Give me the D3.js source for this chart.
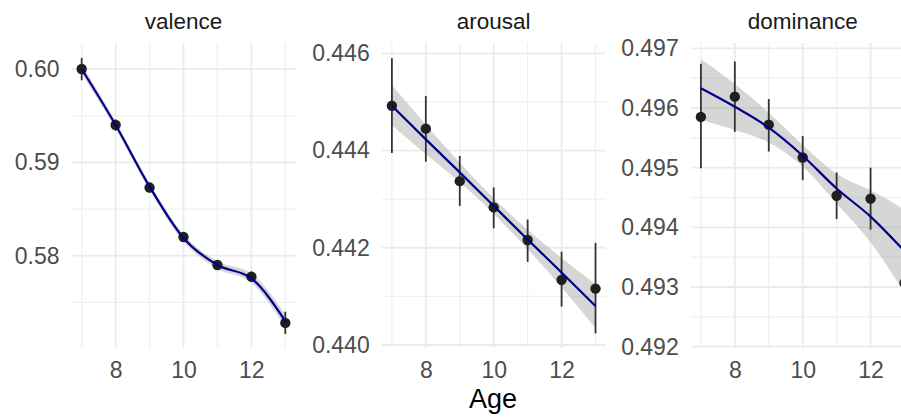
<!DOCTYPE html>
<html>
<head>
<meta charset="utf-8">
<script src="https://cdn.jsdelivr.net/npm/d3@7"></script>
<style>
    body { margin: 0; background: #fff; }
    svg { display: block; font-family: "Liberation Sans", Arial, sans-serif; }
</style>
</head>
<body>
<div id="chart"></div>
<script>
// ages on the x axis
const ages = [7, 8, 9, 10, 11, 12, 13]
const ageTicks = [8, 10, 12]
const ageMinorTicks = [7, 9, 11, 13]

// valence: means, error bar ends, smooth fit and its band
const valenceMean = [0.6000, 0.5940, 0.5873, 0.5820, 0.5790, 0.57775, 0.5728]
const valenceLow = [0.5988, 0.5934, 0.5868, 0.5815, 0.5786, 0.5772, 0.5716]
const valenceHigh = [0.6012, 0.5946, 0.5878, 0.5825, 0.5794, 0.5783, 0.5740]
const valenceFit = [0.6000, 0.5940, 0.5874, 0.5819, 0.5790, 0.57757, 0.5730]
const valenceFitLow = [0.5995, 0.5936, 0.5870, 0.5815, 0.5786, 0.5771, 0.5723]
const valenceFitHigh = [0.6005, 0.5944, 0.5878, 0.5823, 0.5794, 0.5781, 0.5737]
const valenceTicks = [0.58, 0.59, 0.60]
const valenceMinor = [0.575, 0.585, 0.595]

// arousal
const arousalMean = [0.44492, 0.44445, 0.44337, 0.44283, 0.44216, 0.44134, 0.44116]
const arousalLow = [0.44395, 0.44377, 0.44286, 0.44240, 0.44171, 0.44079, 0.44024]
const arousalHigh = [0.44590, 0.44512, 0.44389, 0.44324, 0.44258, 0.44192, 0.44210]
const arousalFit = [0.44492, 0.44423, 0.44355, 0.44286, 0.44217, 0.44149, 0.44080]
const arousalFitLow = [0.44452, 0.44393, 0.44335, 0.44270, 0.44197, 0.44119, 0.44035]
const arousalFitHigh = [0.44535, 0.44453, 0.44375, 0.44302, 0.44237, 0.44179, 0.44125]
const arousalTicks = [0.440, 0.442, 0.444, 0.446]
const arousalMinor = [0.441, 0.443, 0.445]

// dominance
const dominanceMean = [0.49585, 0.49619, 0.49572, 0.49517, 0.49453, 0.49448, 0.49307]
const dominanceLow = [0.49499, 0.49560, 0.49527, 0.49479, 0.49414, 0.49396, 0.49230]
const dominanceHigh = [0.49674, 0.49678, 0.49615, 0.49553, 0.49492, 0.49500, 0.49384]
const dominanceFit = [0.49633, 0.49602, 0.49567, 0.49520, 0.49465, 0.49418, 0.49360]
const dominanceFitLow = [0.49580, 0.49563, 0.49542, 0.49502, 0.49440, 0.49375, 0.49290]
const dominanceFitHigh = [0.49682, 0.49640, 0.49592, 0.49538, 0.49490, 0.49462, 0.49430]
const dominanceTicks = [0.492, 0.493, 0.494, 0.495, 0.496, 0.497]
const dominanceMinor = [0.4925, 0.4935, 0.4945, 0.4955, 0.4965]

const width = 901
const height = 420
const plotTop = 43
const plotBottom = 348

const panels = [
    {name: 'valence', left: 71.5, yDomain: [0.57011, 0.60279], fmt: '.2f',
     mean: valenceMean, lo: valenceLow, hi: valenceHigh,
     fit: valenceFit, fitLo: valenceFitLow, fitHi: valenceFitHigh,
     ticks: valenceTicks, minor: valenceMinor},
    {name: 'arousal', left: 381.7, yDomain: [0.439938, 0.446212], fmt: '.3f',
     mean: arousalMean, lo: arousalLow, hi: arousalHigh,
     fit: arousalFit, fitLo: arousalFitLow, fitHi: arousalFitHigh,
     ticks: arousalTicks, minor: arousalMinor},
    {name: 'dominance', left: 690.7, yDomain: [0.491978, 0.497089], fmt: '.3f',
     mean: dominanceMean, lo: dominanceLow, hi: dominanceHigh,
     fit: dominanceFit, fitLo: dominanceFitLow, fitHi: dominanceFitHigh,
     ticks: dominanceTicks, minor: dominanceMinor}
]
const panelWidth = 224

const svg = d3.select('#chart')
    .append('svg')
    .attr('width', width)
    .attr('height', height)

panels.forEach(p => {
    const x = d3.scaleLinear().domain([6.7, 13.3]).range([p.left, p.left + panelWidth])
    const y = d3.scaleLinear().domain(p.yDomain).range([plotBottom, plotTop])
    const g = svg.append('g')

    // grid: minor then major
    g.selectAll('.ymin').data(p.minor).enter().append('line')
        .attr('x1', x.range()[0]).attr('x2', x.range()[1])
        .attr('y1', d => y(d)).attr('y2', d => y(d))
        .attr('stroke', '#f0f0f0').attr('stroke-width', 1.3)
    g.selectAll('.xmin').data(ageMinorTicks).enter().append('line')
        .attr('y1', plotTop).attr('y2', plotBottom)
        .attr('x1', d => x(d)).attr('x2', d => x(d))
        .attr('stroke', '#f0f0f0').attr('stroke-width', 1.3)
    g.selectAll('.ymaj').data(p.ticks).enter().append('line')
        .attr('x1', x.range()[0]).attr('x2', x.range()[1])
        .attr('y1', d => y(d)).attr('y2', d => y(d))
        .attr('stroke', '#ebebeb').attr('stroke-width', 1.8)
    g.selectAll('.xmaj').data(ageTicks).enter().append('line')
        .attr('y1', plotTop).attr('y2', plotBottom)
        .attr('x1', d => x(d)).attr('x2', d => x(d))
        .attr('stroke', '#ebebeb').attr('stroke-width', 1.8)

    // axes, drawn with d3 axis and stripped of domain/ticks
    const yAxis = g.append('g')
        .attr('transform', `translate(${p.left},0)`)
        .call(d3.axisLeft(y).tickValues(p.ticks).tickFormat(d3.format(p.fmt)).tickSize(0).tickPadding(12))
    const xAxis = g.append('g')
        .attr('transform', `translate(0,${plotBottom})`)
        .call(d3.axisBottom(x).tickValues(ageTicks).tickFormat(d3.format('d')).tickSize(0).tickPadding(14))
    ;[yAxis, xAxis].forEach(a => {
        a.select('.domain').remove()
        a.selectAll('text')
            .attr('fill', '#4d4d4d')
            .style('font-size', '23px')
    })
    xAxis.selectAll('text').attr('dy', '0.71em')

    // strip title
    g.append('text')
        .attr('x', p.left + panelWidth / 2)
        .attr('y', 29)
        .attr('text-anchor', 'middle')
        .attr('fill', '#1a1a1a')
        .style('font-size', '22.5px')
        .text(p.name)

    const rows = ages.map((a, i) => ({
        age: a, mean: p.mean[i], lo: p.lo[i], hi: p.hi[i],
        fit: p.fit[i], fitLo: p.fitLo[i], fitHi: p.fitHi[i]
    }))

    // confidence band
    const band = d3.area()
        .x(d => x(d.age))
        .y0(d => y(d.fitLo))
        .y1(d => y(d.fitHi))
        .curve(d3.curveMonotoneX)
    g.append('path')
        .datum(rows)
        .attr('d', band)
        .attr('fill', '#999999')
        .attr('fill-opacity', 0.4)

    // error bars
    g.selectAll('.err').data(rows).enter().append('line')
        .attr('x1', d => x(d.age)).attr('x2', d => x(d.age))
        .attr('y1', d => y(d.lo)).attr('y2', d => y(d.hi))
        .attr('stroke', '#333').attr('stroke-width', 1.8)

    g.selectAll('.pt').data(rows).enter().append('circle')
        .attr('cx', d => x(d.age))
        .attr('cy', d => y(d.mean))
        .attr('r', 5.2)
        .attr('fill', '#1f1f1f')

    const line = d3.line()
        .x(d => x(d.age))
        .y(d => y(d.fit))
        .curve(d3.curveMonotoneX)
    g.append('path')
        .datum(rows)
        .attr('d', line)
        .attr('fill', 'none')
        .attr('stroke', '#00008b')
        .attr('stroke-width', 2.2)
})

// shared x title
svg.append('text')
    .attr('x', 493)
    .attr('y', 408)
    .attr('text-anchor', 'middle')
    .attr('fill', '#000')
    .style('font-size', '27px')
    .text('Age')
</script>
</body>
</html>
